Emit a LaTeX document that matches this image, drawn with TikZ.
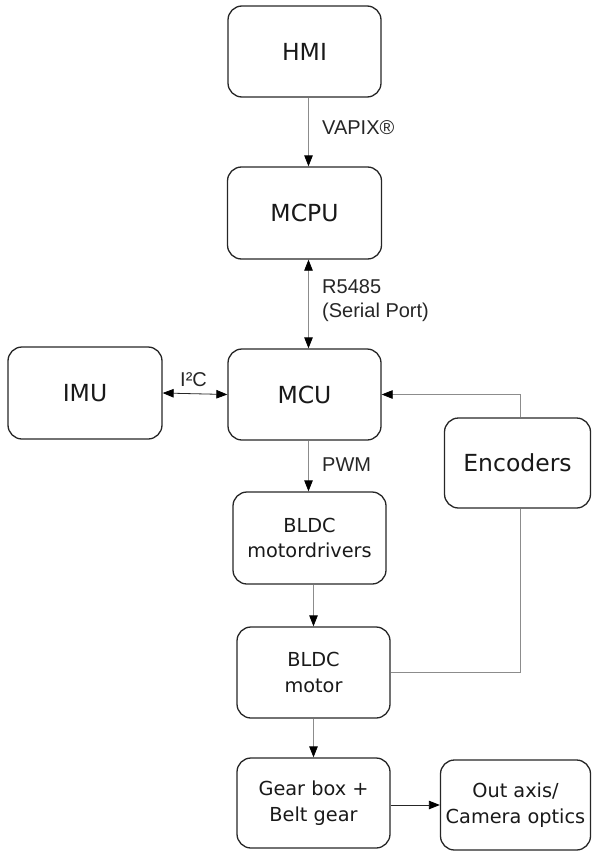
\documentclass[tikz,border=0pt]{standalone}
\usepackage{fontspec}
\setmainfont{DejaVu Sans}
\newfontfamily\labelfont{Liberation Sans}
\usetikzlibrary{arrows.meta,calc}
\begin{document}
\begin{tikzpicture}[x=1pt,y=-1pt,
  blk/.style={draw=black!85, line width=1.3pt, rounded corners=14pt, align=center, inner sep=0pt, text=black!90},
  bigtxt/.style={font=\fontsize{23.5}{27}\selectfont},
  smalltxt/.style={font=\fontsize{19.3}{25.5}\selectfont},
  conn/.style={draw=black!45, line width=0.8pt},
  darkconn/.style={draw=black!85, line width=0.8pt},
  tip/.style={-{Triangle[length=11pt,width=8.5pt,color=black,fill=black]}},
  bitip/.style={{Triangle[length=11pt,width=8.5pt,color=black,fill=black]}-{Triangle[length=11pt,width=8.5pt,color=black,fill=black]}},
  lbl/.style={font=\labelfont\fontsize{20}{24}\selectfont, text=black!85, anchor=west, inner sep=0pt, align=left}
]
\useasboundingbox (0,0) rectangle (592,851);
\node[blk,bigtxt,minimum width=153pt,minimum height=91pt] (hmi) at (304.5,51.5) {HMI};
\node[blk,bigtxt,minimum width=154pt,minimum height=92pt] (mcpu) at (304.5,213) {MCPU};
\node[blk,bigtxt,minimum width=154pt,minimum height=92pt] (imu) at (85,393) {IMU};
\node[blk,bigtxt,minimum width=153pt,minimum height=91pt] (mcu) at (304.5,394.5) {MCU};
\node[blk,bigtxt,minimum width=146pt,minimum height=90pt] (enc) at (517.5,463) {Encoders};
\node[blk,smalltxt,minimum width=153pt,minimum height=92pt] (drv) at (309.5,538) {BLDC\\motordrivers};
\node[blk,smalltxt,minimum width=153pt,minimum height=91pt] (mot) at (313.5,672.5) {BLDC\\motor};
\node[blk,smalltxt,minimum width=153pt,minimum height=90pt] (gear) at (313.5,803) {Gear box +\\Belt gear};
\node[blk,smalltxt,minimum width=150pt,minimum height=90pt] (out) at (515.5,805) {Out axis/\\Camera optics};
\coordinate (ca) at (308.5,0);
\coordinate (cb) at (313.5,0);
\coordinate (ce) at (520.5,0);
\draw[conn,tip] (hmi.south -| ca) -- (mcpu.north -| ca);
\draw[conn,bitip] (mcpu.south -| ca) -- (mcu.north -| ca);
\draw[conn,tip] (mcu.south -| ca) -- (drv.north -| ca);
\draw[conn,tip] (drv.south -| cb) -- (mot.north -| cb);
\draw[conn,tip] (mot.south -| cb) -- (gear.north -| cb);
\draw[darkconn,bitip] (imu.east) -- (mcu.west);
\draw[darkconn,tip] (gear.east |- out.west) -- (out.west);
\draw[conn] (mot.east) -| (enc.south -| ce);
\draw[conn,tip] (enc.north -| ce) |- (mcu.east);
\node[lbl] (l1) at (322,128) {VAPIX®};
\node[lbl] (l2) at (322,301) {R5485\\(Serial Port)};
\node[lbl] (l3) at (180,380) {I²C};
\node[lbl] (l4) at (322,465) {PWM};
\end{tikzpicture}
\end{document}
